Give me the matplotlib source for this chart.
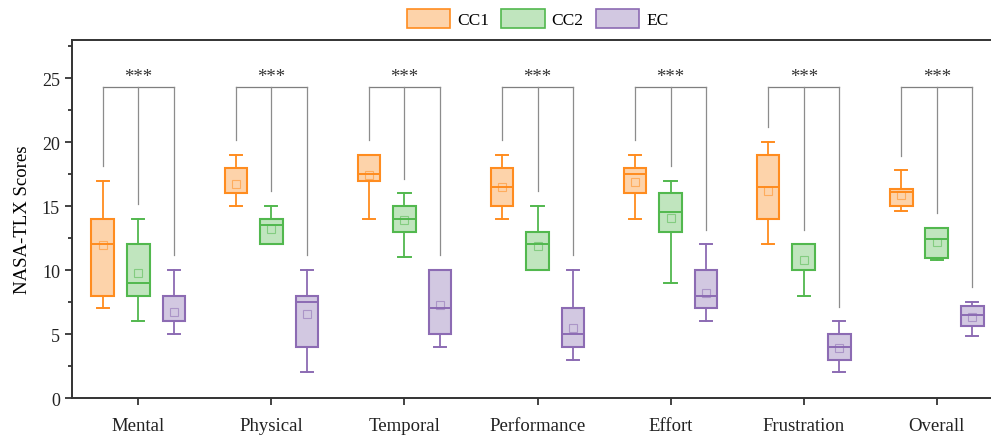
import matplotlib
matplotlib.use("Agg")
import matplotlib.pyplot as plt
from matplotlib.patches import Patch
from matplotlib.ticker import MultipleLocator

plt.rcParams["font.family"] = ["Liberation Serif", "DejaVu Serif"]

categories = ["Mental", "Physical", "Temporal", "Performance", "Effort", "Frustration", "Overall"]
conditions = ["CC1", "CC2", "EC"]

# five-number summaries + mean per category
cc1_whislo = [7, 15, 14, 14, 14, 12, 14.6]
cc1_q1 = [8, 16, 17, 15, 16, 14, 15.0]
cc1_med = [12, 16, 17.5, 16.5, 17.5, 16.5, 16.07]
cc1_q3 = [14, 18, 19, 18, 18, 19, 16.3]
cc1_whishi = [17, 19, 19, 19, 19, 20, 17.8]
cc1_mean = [11.95, 16.7, 17.4, 16.5, 16.9, 16.2, 15.9]

cc2_whislo = [6, 12, 11, 10, 9, 8, 10.8]
cc2_q1 = [8, 12, 13, 10, 13, 10, 10.96]
cc2_med = [9, 13.5, 14, 12, 14.5, 12, 12.4]
cc2_q3 = [12, 14, 15, 13, 16, 12, 13.3]
cc2_whishi = [14, 15, 16, 15, 17, 12, 13.3]
cc2_mean = [9.8, 13.2, 13.9, 11.9, 14.1, 10.8, 12.2]

ec_whislo = [5, 2, 4, 3, 6, 2, 4.82]
ec_q1 = [6, 4, 5, 4, 7, 3, 5.65]
ec_med = [6, 7.5, 7, 5, 8, 4, 6.46]
ec_q3 = [8, 8, 10, 7, 10, 5, 7.16]
ec_whishi = [10, 10, 10, 10, 12, 6, 7.5]
ec_mean = [6.7, 6.6, 7.3, 5.5, 8.2, 3.9, 6.3]

significance = ["***"] * 7

series = [
    (cc1_whislo, cc1_q1, cc1_med, cc1_q3, cc1_whishi, cc1_mean),
    (cc2_whislo, cc2_q1, cc2_med, cc2_q3, cc2_whishi, cc2_mean),
    (ec_whislo, ec_q1, ec_med, ec_q3, ec_whishi, ec_mean),
]

edge_colors = ["#FF8C1F", "#52B84E", "#8C6BB3"]
face_colors = ["#FDD3AA", "#C0E5BE", "#D2C8E1"]

fig = plt.figure(figsize=(9.91, 4.39), dpi=100)
ax = fig.add_axes([0.0724, 0.0911, 0.94, 0.816])

offsets = [-0.267, 0.0, 0.267]
box_w = 0.17
cap_w = 0.092

for k, (wlo, q1, med, q3, whi, mn) in enumerate(series):
    stats = []
    for i in range(len(categories)):
        stats.append(dict(whislo=wlo[i], q1=q1[i], med=med[i], q3=q3[i],
                          whishi=whi[i], mean=mn[i], fliers=[]))
    pos = [i + 1 + offsets[k] for i in range(len(categories))]
    ec = edge_colors[k]
    ax.bxp(stats, positions=pos, widths=box_w, capwidths=cap_w,
           patch_artist=True, showmeans=True, showfliers=False,
           boxprops=dict(facecolor=face_colors[k], edgecolor=ec, linewidth=1.5),
           whiskerprops=dict(color=ec, linewidth=1.3),
           capprops=dict(color=ec, linewidth=1.4),
           medianprops=dict(color=ec, linewidth=1.4),
           meanprops=dict(marker="s", markersize=5.5, markerfacecolor="none",
                          markeredgecolor=ec, markeredgewidth=0.8, alpha=0.55),
           zorder=3)

# significance brackets over each category
bar_y = 24.3
gap = 1.15
for i in range(len(categories)):
    xs = [i + 1 + o for o in offsets]
    tops = [series[k][4][i] for k in range(3)]
    ax.plot([xs[0], xs[2]], [bar_y, bar_y], color="#7F7F7F", lw=0.9, zorder=2)
    for x, t in zip(xs, tops):
        ax.plot([x, x], [t + gap, bar_y], color="#8C8C8C", lw=0.9, zorder=2)
    ax.text(i + 1, bar_y + 0.15, significance[i], ha="center", va="bottom",
            fontsize=13.5, color="#333333")

ax.set_xlim(0.5, 7.5)
ax.set_ylim(0, 28)
ax.set_xticks(range(1, len(categories) + 1))
ax.set_xticklabels(categories, fontsize=13.5)
ax.yaxis.set_major_locator(MultipleLocator(5))
ax.yaxis.set_minor_locator(MultipleLocator(2.5))
ax.tick_params(axis="y", which="major", direction="out", length=5, width=1.2,
               labelsize=13, colors="#222222")
ax.tick_params(axis="y", which="minor", direction="out", length=3, width=1.2,
               colors="#222222")
ax.tick_params(axis="x", which="major", direction="out", length=5, width=1.2,
               labelsize=13.5, colors="#222222", pad=9)
ax.set_ylabel("NASA-TLX Scores", fontsize=13.5, labelpad=8)

for side in ["left", "bottom", "top"]:
    ax.spines[side].set_linewidth(1.4)
    ax.spines[side].set_color("#333333")
ax.spines["right"].set_visible(False)

# legend centred over the plotting area
handles = [Patch(facecolor=face_colors[k], edgecolor=edge_colors[k], linewidth=1.2,
                 label=conditions[k]) for k in range(3)]
box = ax.get_position()
fig.legend(handles=handles, loc="center",
           bbox_to_anchor=(box.x0 + box.width / 2, 0.955),
           ncol=3, frameon=False, fontsize=12.5,
           handlelength=2.5, handleheight=1.25, handletextpad=0.4,
           columnspacing=0.7)

fig.savefig("out.png", dpi=100)
